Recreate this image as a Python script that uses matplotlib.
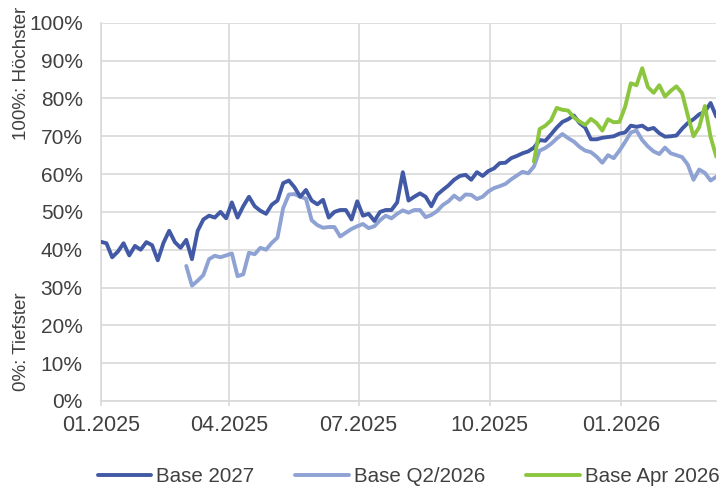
import pandas as pd
import matplotlib
matplotlib.use('Agg')
import matplotlib.pyplot as plt
import matplotlib.dates as mdates
from matplotlib.ticker import FuncFormatter

plt.rcParams['font.family'] = ['Liberation Sans', 'DejaVu Sans']

# --- data: one value every 4 days starting 01.01.2025 ---
start_date = '2025-01-01'
n_points = 109

base_2027 = [
    42.1, 41.7, 38.0, 39.5, 41.7, 38.5, 41.0, 40.0, 42.0, 41.2,
    37.2, 41.8, 45.0, 42.0, 40.5, 42.6, 37.5, 45.0, 48.0, 49.0,
    48.5, 50.0, 48.3, 52.5, 48.5, 51.5, 54.0, 51.5, 50.3, 49.5,
    51.9, 53.0, 57.6, 58.3, 56.5, 54.0, 55.8, 53.0, 52.0, 53.2,
    48.5, 50.0, 50.5, 50.5, 48.0, 52.8, 49.0, 49.5, 47.6, 50.0,
    50.5, 50.5, 52.5, 60.5, 53.0, 54.0, 54.9, 54.0, 51.5, 54.5,
    55.8, 57.0, 58.5, 59.5, 59.8, 58.5, 60.5, 59.5, 60.8, 61.5,
    62.9, 63.0, 64.2, 64.8, 65.5, 66.0, 67.0, 69.0, 68.8, 70.5,
    72.3, 73.8, 74.5, 75.5, 73.5, 72.3, 69.2, 69.2, 69.6, 69.8,
    70.0, 70.7, 71.0, 72.8, 72.5, 72.8, 71.8, 72.2, 70.8, 69.9,
    70.0, 70.2, 72.0, 73.5, 74.5, 75.8, 76.5, 78.8, 75.2,
]

# Base Q2/2026 starts at point 15
q2_start = 15
base_q2_2026 = [
    35.7, 30.5, 31.8, 33.3, 37.5, 38.4, 38.0, 38.5, 39.0, 33.0,
    33.5, 39.2, 38.8, 40.5, 40.0, 41.8, 43.2, 51.0, 54.6, 54.7,
    54.0, 53.5, 47.8, 46.5, 45.8, 46.0, 46.0, 43.5, 44.5, 45.5,
    46.2, 46.8, 45.7, 46.2, 47.8, 49.0, 48.3, 49.5, 50.4, 49.8,
    50.5, 50.5, 48.6, 49.2, 50.2, 51.8, 52.8, 54.3, 53.2, 54.6,
    54.5, 53.4, 54.0, 55.4, 56.3, 56.8, 57.4, 58.6, 59.6, 60.6,
    60.2, 62.0, 66.2, 66.9, 68.0, 69.4, 70.6, 69.5, 68.6, 67.2,
    66.2, 65.8, 64.6, 63.0, 65.0, 64.2, 66.2, 68.5, 71.0, 71.5,
    69.0, 67.3, 66.0, 65.3, 67.0, 65.5, 65.0, 64.5, 62.5, 58.5,
    61.2, 60.3, 58.3, 59.3,
]

# Base Apr 2026 starts at point 76
apr_start = 76
base_apr_2026 = [
    63.3, 71.9, 72.8, 74.2, 77.5, 77.0, 76.8, 75.0, 73.9, 73.0,
    74.6, 73.5, 71.5, 74.5, 73.7, 73.8, 77.8, 84.0, 83.5, 88.0,
    83.0, 81.5, 83.5, 80.5, 82.0, 83.2, 81.4, 75.5, 70.0, 72.4,
    78.0, 69.8, 64.6,
]

dates = pd.date_range(start_date, periods=n_points, freq='4D')

fig = plt.figure(figsize=(7.25, 4.86), dpi=100)
ax = fig.add_axes([0.139, 0.175, 0.849, 0.778])

line_kw = dict(lw=2.8, solid_joinstyle='round', solid_capstyle='round')
ax.plot(dates, base_2027, color='#4259A5', label='Base 2027', zorder=3, **line_kw)
ax.plot(dates[q2_start:q2_start + len(base_q2_2026)], base_q2_2026, color='#8FA2D4',
        label='Base Q2/2026', zorder=2, **line_kw)
ax.plot(dates[apr_start:apr_start + len(base_apr_2026)], base_apr_2026, color='#8CC63F',
        label='Base Apr 2026', zorder=4, **line_kw)

ax.set_ylim(0, 100)
ax.set_yticks(range(0, 101, 10))
ax.yaxis.set_major_formatter(FuncFormatter(lambda v, p: f'{int(v)}%'))
ax.set_xlim(pd.Timestamp('2025-01-01'), pd.Timestamp('2026-03-09'))
ax.set_xticks(pd.to_datetime(['2025-01-01', '2025-04-01', '2025-07-01',
                              '2025-10-01', '2026-01-01']))
ax.xaxis.set_major_formatter(mdates.DateFormatter('%m.%Y'))

ax.grid(True, color='#D9D9D9', lw=1.2)
ax.set_axisbelow(True)
for side in ['top', 'right']:
    ax.spines[side].set_visible(False)
for side in ['left', 'bottom']:
    ax.spines[side].set_color('#D9D9D9')
    ax.spines[side].set_linewidth(1.2)
ax.tick_params(axis='y', length=0, pad=13, labelsize=15, labelcolor='#404040')
ax.tick_params(axis='x', length=3.5, width=1.2, color='#D9D9D9', pad=6.5,
               labelsize=15.5, labelcolor='#404040')

fig.text(0.030, 0.850, '100%: Höchster', rotation=90, ha='center', va='center',
         fontsize=13.5, color='#404040')
fig.text(0.030, 0.296, '0%: Tiefster', rotation=90, ha='center', va='center',
         fontsize=13.5, color='#404040')

ax.legend(loc='center', bbox_to_anchor=(0.5, -0.2), ncol=3, frameon=False,
          fontsize=14.8, handlelength=2.6, handletextpad=0.25, columnspacing=2.0,
          labelcolor='#404040')

fig.savefig('out.png', dpi=100)
